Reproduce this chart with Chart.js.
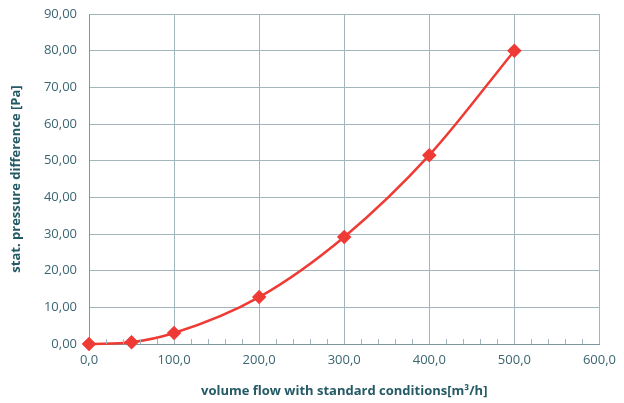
<!DOCTYPE html>
<html lang="en">

<head>
  <meta charset="UTF-8">
  <title>Pressure difference</title>
  <script src="https://cdn.jsdelivr.net/npm/chart.js"></script>
  <style>
    body {
      margin: 0;
      background: #ffffff;
    }

    .chart-container {
      width: 624px;
      height: 403px;
    }
  </style>
</head>

<body>
  <div class="chart-container">
    <canvas id="pressureChart"></canvas>
  </div>

  <script>
    // values
    const flow = [0, 50, 100, 200, 300, 400, 500];
    const pressure = [0, 0.5, 3.0, 12.8, 29.2, 51.5, 80.0];

    const gridColor = '#a3b6bd';
    const axisColor = '#7f979f';
    const textColor = '#3a6571';
    const titleColor = '#245a65';

    // small ticks every 20 m3/h along the bottom axis
    const minorTicks = {
      id: 'minorTicks',
      afterDraw(chart) {
        const x = chart.scales.x;
        const ctx = chart.ctx;
        const bottom = chart.chartArea.bottom;
        ctx.save();
        ctx.strokeStyle = gridColor;
        ctx.lineWidth = 1;
        for (let v = 20; v < 600; v += 20) {
          if (v % 100 === 0) continue;
          const px = Math.round(x.getPixelForValue(v)) + 0.5;
          ctx.beginPath();
          ctx.moveTo(px, bottom);
          ctx.lineTo(px, bottom - 5);
          ctx.stroke();
        }
        ctx.restore();
      }
    };

    const ctx = document.getElementById('pressureChart').getContext('2d');

    new Chart(ctx, {
      type: 'scatter',
      data: {
        datasets: [{
          data: flow.map((f, i) => ({ x: f, y: pressure[i] })),
          showLine: true,
          clip: false,
          borderColor: '#ee3b36',
          backgroundColor: '#ee3b36',
          borderWidth: 2.5,
          cubicInterpolationMode: 'monotone',
          pointStyle: 'rectRot',
          pointRadius: 5.5,
          pointHoverRadius: 5.5
        }]
      },
      options: {
        responsive: true,
        maintainAspectRatio: false,
        animation: false,
        layout: {
          padding: { top: 14, right: 24, left: 0, bottom: 0 }
        },
        plugins: {
          legend: { display: false },
          tooltip: { enabled: false }
        },
        scales: {
          x: {
            type: 'linear',
            min: 0,
            max: 600,
            afterFit: scale => { scale.height = 59; },
            border: { color: axisColor, width: 1 },
            grid: { color: gridColor, drawTicks: false },
            ticks: {
              stepSize: 100,
              padding: 8,
              color: textColor,
              font: { family: 'Open Sans', size: 13 },
              callback: v => v.toFixed(1).replace('.', ',')
            },
            title: {
              display: true,
              text: 'volume flow with standard conditions[m³/h]',
              color: titleColor,
              font: { family: 'Open Sans', size: 13, weight: 'bold' },
              padding: { top: 0, bottom: 4 }
            }
          },
          y: {
            min: 0,
            max: 90,
            afterFit: scale => {
              scale.width = 89;
              scale.paddingTop = 0;
              scale.paddingBottom = 0;
            },
            border: { color: axisColor, width: 1 },
            grid: { color: gridColor, drawTicks: false },
            ticks: {
              stepSize: 10,
              padding: 12,
              color: textColor,
              font: { family: 'Open Sans', size: 13 },
              callback: v => v.toFixed(2).replace('.', ',')
            },
            title: {
              display: true,
              text: 'stat. pressure difference [Pa]',
              color: titleColor,
              font: { family: 'Open Sans', size: 13, weight: 'bold' },
              padding: { top: 8, bottom: 0 }
            }
          }
        }
      },
      plugins: [minorTicks]
    });
  </script>
</body>

</html>
